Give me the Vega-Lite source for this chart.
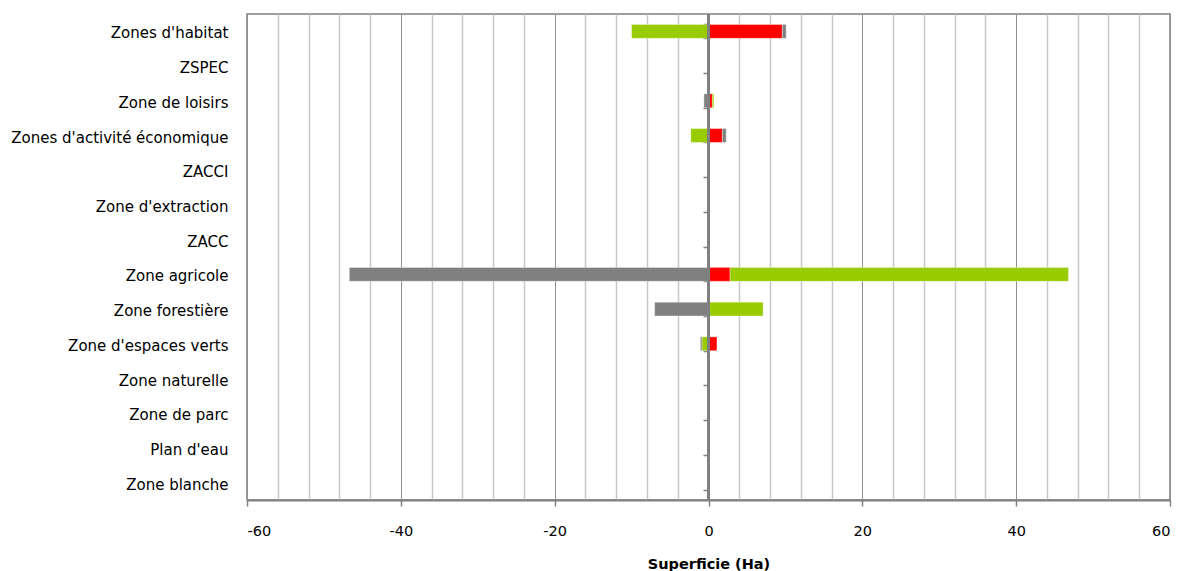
{
  "$schema": "https://vega.github.io/schema/vega-lite/v6.json",
  "width": 923,
  "height": 486,
  "autosize": {"type": "none"},
  "padding": {"left": 247, "top": 14, "right": 11, "bottom": 71},
  "background": "white",
  "config": {
    "view": {"stroke": "#808080", "strokeWidth": 1.5},
    "font": "DejaVu Sans",
    "axis": {"labelFont": "DejaVu Sans", "titleFont": "DejaVu Sans", "labelColor": "#000000", "titleColor": "#000000"}
  },
  "data": {
    "values": [
      {"zone": "Zones d'habitat", "serie": "Série 1", "valeur": 9.6},
      {"zone": "Zones d'habitat", "serie": "Série 3", "valeur": 0.5},
      {"zone": "Zones d'habitat", "serie": "Série 2", "valeur": -10.0},
      {"zone": "Zone de loisirs", "serie": "Série 3", "valeur": -0.6},
      {"zone": "Zone de loisirs", "serie": "Série 1", "valeur": 0.5},
      {"zone": "Zone de loisirs", "serie": "Série 2", "valeur": 0.2},
      {"zone": "Zones d'activité économique", "serie": "Série 2", "valeur": -2.3},
      {"zone": "Zones d'activité économique", "serie": "Série 1", "valeur": 1.8},
      {"zone": "Zones d'activité économique", "serie": "Série 3", "valeur": 0.5},
      {"zone": "Zone agricole", "serie": "Série 3", "valeur": -46.7},
      {"zone": "Zone agricole", "serie": "Série 1", "valeur": 2.8},
      {"zone": "Zone agricole", "serie": "Série 2", "valeur": 44.0},
      {"zone": "Zone forestière", "serie": "Série 3", "valeur": -7.0},
      {"zone": "Zone forestière", "serie": "Série 2", "valeur": 7.1},
      {"zone": "Zone d'espaces verts", "serie": "Série 2", "valeur": -0.85},
      {"zone": "Zone d'espaces verts", "serie": "Série 3", "valeur": -0.2},
      {"zone": "Zone d'espaces verts", "serie": "Série 1", "valeur": 1.1},
      {"zone": "Zone naturelle", "serie": "Série 1", "valeur": 0.05},
      {"zone": "Zone de parc", "serie": "Série 2", "valeur": 0.05},
      {"zone": "Plan d'eau", "serie": "Série 3", "valeur": 0.2}
    ]
  },
  "resolve": {"axis": {"x": "independent", "y": "independent"}},
  "layer": [
    {
      "mark": {"type": "bar", "stroke": "#ffffff", "strokeOpacity": 0.35, "strokeWidth": 1},
      "encoding": {
        "y": {
          "field": "zone",
          "type": "nominal",
          "scale": {
            "domain": ["Zones d'habitat", "ZSPEC", "Zone de loisirs", "Zones d'activité économique", "ZACCI", "Zone d'extraction", "ZACC", "Zone agricole", "Zone forestière", "Zone d'espaces verts", "Zone naturelle", "Zone de parc", "Plan d'eau", "Zone blanche"],
            "paddingInner": 0.6,
            "paddingOuter": 0.3
          },
          "axis": {"orient": "left", "title": null, "ticks": false, "domain": false, "labelPadding": 19, "labelFontSize": 15, "labelLimit": 400, "labelOffset": 2}
        },
        "x": {
          "field": "valeur",
          "type": "quantitative",
          "stack": "zero",
          "scale": {"domain": [-60, 60], "nice": false, "zero": false},
          "axis": {
            "orient": "bottom",
            "values": [-56, -52, -48, -44, -36, -32, -28, -24, -16, -12, -8, -4, 4, 8, 12, 16, 24, 28, 32, 36, 44, 48, 52, 56],
            "grid": true, "gridColor": "#c8c8c8", "gridWidth": 1.5, "gridOpacity": 1,
            "labels": false, "ticks": false, "domain": false, "title": null
          }
        },
        "color": {
          "field": "serie",
          "type": "nominal",
          "scale": {"domain": ["Série 1", "Série 2", "Série 3"], "range": ["#ff0000", "#99cc00", "#808080"]},
          "legend": null
        },
        "order": {"field": "serie", "sort": "ascending"}
      }
    },
    {
      "mark": {"type": "rule", "color": "#808080", "strokeWidth": 2},
      "encoding": {
        "x": {
          "datum": 0,
          "type": "quantitative",
          "axis": {
            "orient": "bottom",
            "values": [-60, -40, -20, 0, 20, 40, 60],
            "labelExpr": "'' + datum.value",
            "grid": true, "gridColor": "#909090", "gridWidth": 1, "gridOpacity": 1,
            "domain": true, "domainColor": "#808080", "domainWidth": 2,
            "ticks": true, "tickColor": "#808080", "tickSize": 6, "tickWidth": 1.5,
            "labelFontSize": 14.5, "labelPadding": 18,
            "title": "Superficie (Ha)", "titleFontSize": 14.5, "titleFontWeight": "bold", "titlePadding": 20
          }
        }
      }
    },
    {
      "mark": {"type": "tick", "opacity": 0},
      "encoding": {
        "x": {"datum": 0, "type": "quantitative", "axis": null},
        "y": {
          "field": "zone",
          "type": "nominal",
          "axis": {"orient": "left", "offset": -461, "title": null, "labels": false, "domain": false, "ticks": true, "tickBand": "extent", "tickSize": 5, "tickColor": "#808080", "tickWidth": 1.5, "grid": false}
        }
      }
    }
  ]
}
